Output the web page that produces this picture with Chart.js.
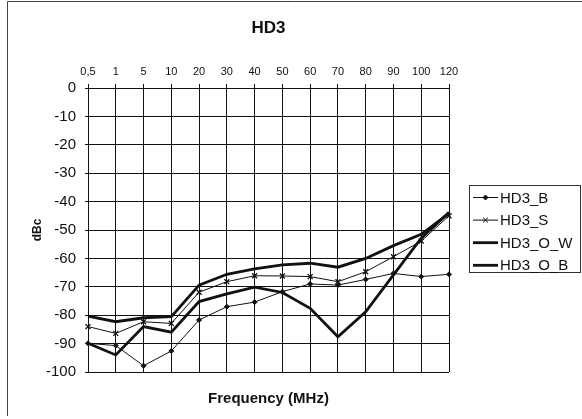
<!DOCTYPE html>
<html>
<head>
<meta charset="utf-8">
<script src="https://cdn.jsdelivr.net/npm/chart.js@4"></script>
<style>
  body { margin: 0; background: #fff; }
  canvas { display: block; }
</style>
</head>
<body>
<canvas id="drawChart" width="582" height="419"></canvas>
<script>
// tick labels on the frequency axis (MHz)
const freqLabels = ['0,5', '1', '5', '10', '20', '30', '40', '50', '60', '70', '80', '90', '100', '120'];
// dBc values
const hd3B  = [-89.9, -90.7, -97.8, -92.6, -81.7, -77.0, -75.4, -71.7, -69.0, -69.4, -67.4, -65.3, -66.4, -65.6];
const hd3S  = [-84.0, -86.4, -82.3, -82.9, -71.9, -68.2, -66.1, -66.2, -66.4, -68.2, -64.7, -59.4, -53.9, -45.0];
const hd3OW = [-80.3, -82.3, -80.9, -80.5, -69.4, -65.6, -63.7, -62.3, -61.7, -63.1, -60.0, -55.5, -51.5, -44.1];
const hd3OB = [-89.9, -94.0, -84.0, -86.0, -75.2, -72.5, -70.1, -72.0, -77.6, -87.6, -78.8, -65.8, -52.9, -43.8];

const ink = '#111';
const gridInk = '#111';
const fontName = 'Arial, "Liberation Sans", Helvetica, sans-serif';

// frame on the left / top edge and boxed legend on the right
const decoPlugin = {
    id: 'deco',
    beforeDraw(chart) {
        const c = chart.ctx;
        c.save();
        c.strokeStyle = '#444';
        c.lineWidth = 1;
        c.beginPath();
        c.moveTo(7.5, 416);
        c.lineTo(7.5, 1.5);
        c.lineTo(582, 1.5);
        c.stroke();
        c.restore();
    },
    afterDraw(chart) {
        const c = chart.ctx;
        c.save();
        c.strokeStyle = '#333';
        c.lineWidth = 1;
        c.strokeRect(469.5, 185.5, 111, 87);
        c.font = '15px ' + fontName;
        c.textBaseline = 'middle';
        c.fillStyle = ink;
        chart.data.datasets.forEach(function (ds, i) {
            const y = 197.5 + i * 22.6;
            c.strokeStyle = ink;
            c.lineWidth = ds.borderWidth;
            c.beginPath();
            c.moveTo(473, y);
            c.lineTo(498, y);
            c.stroke();
            if (ds.pointRadius > 0) {
                Chart.helpers.drawPoint(c, {
                    pointStyle: ds.pointStyle,
                    radius: ds.pointRadius,
                    borderWidth: ds.pointBorderWidth || 1
                }, 485.5, y);
            }
            c.fillText(ds.label, 500, y + 1);
        });
        c.restore();
    }
};

const ctx = document.getElementById('drawChart').getContext('2d');
const myChart = new Chart(ctx, {
    type: 'line',
    data: {
        labels: freqLabels,
        datasets: [{
            label: 'HD3_B',
            data: hd3B,
            borderColor: ink,
            backgroundColor: ink,
            borderWidth: 1,
            pointStyle: 'rectRot',
            pointRadius: 2.5,
            pointBorderWidth: 1
        }, {
            label: 'HD3_S',
            data: hd3S,
            borderColor: ink,
            backgroundColor: ink,
            borderWidth: 1,
            pointStyle: 'crossRot',
            pointRadius: 3.5,
            pointBorderWidth: 1.3
        }, {
            label: 'HD3_O_W',
            data: hd3OW,
            borderColor: ink,
            borderWidth: 2.8,
            pointRadius: 0
        }, {
            label: 'HD3_O_B',
            data: hd3OB,
            borderColor: ink,
            borderWidth: 2.8,
            pointRadius: 0
        }]
    },
    options: {
        responsive: false,
        animation: false,
        devicePixelRatio: 1,
        layout: { padding: { left: 10, right: 133, top: 0, bottom: 0 } },
        plugins: {
            legend: { display: false },
            tooltip: { enabled: false },
            title: {
                display: true,
                text: 'HD3',
                fullSize: false,
                color: ink,
                font: { family: fontName, size: 17, weight: 'bold' },
                padding: { top: 18, bottom: 10 }
            },
            subtitle: {
                display: true,
                position: 'bottom',
                text: 'Frequency (MHz)',
                fullSize: false,
                color: ink,
                font: { family: fontName, size: 15, weight: 'bold' },
                padding: { top: 18, bottom: 11 }
            }
        },
        scales: {
            x: {
                position: 'top',
                offset: false,
                afterFit: function (scale) { scale.height = 39.6; },
                grid: { color: gridInk, lineWidth: 1, tickLength: 4 },
                border: { color: gridInk },
                ticks: {
                    color: ink,
                    padding: 5,
                    maxRotation: 0,
                    autoSkip: false,
                    font: { family: fontName, size: 11 }
                }
            },
            y: {
                min: -100,
                max: 0,
                afterFit: function (scale) { scale.width = 78; },
                grid: { color: gridInk, lineWidth: 1, tickLength: 3 },
                border: { color: gridInk },
                ticks: {
                    stepSize: 10,
                    color: ink,
                    padding: 9,
                    font: { family: fontName, size: 15 }
                },
                title: {
                    display: true,
                    text: 'dBc',
                    color: ink,
                    font: { family: fontName, size: 12, weight: 'bold' },
                    padding: { top: 20, bottom: 0 }
                }
            }
        }
    },
    plugins: [decoPlugin]
});
</script>
</body>
</html>
